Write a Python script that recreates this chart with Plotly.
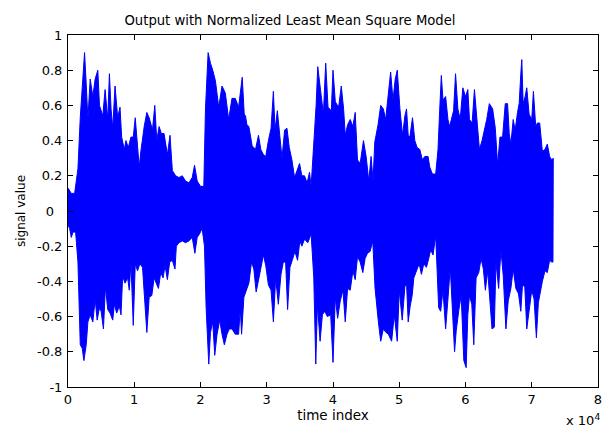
import plotly.graph_objects as go

# Envelope of the signal (x in thousands of samples)
upper_x = [0, 0.5, 1.0, 1.25, 1.5, 1.85, 2.15, 2.35, 2.5, 2.75, 3.0, 3.35, 3.75, 4.1, 4.5, 4.75,
           5.25, 5.6, 6.0, 6.25, 6.5, 6.75, 7.1, 7.5, 7.85, 8.1, 8.5, 8.75, 9.1, 9.5, 9.85,
           10.15, 10.5, 10.75, 11.0, 11.5, 11.9, 12.25, 12.75, 13.1, 13.4, 13.75, 14.1, 14.5,
           15.0, 15.4, 15.75, 16.25, 16.75, 17.25, 17.75, 18.25, 18.75, 19.1, 19.5, 20.0, 20.5,
           20.75, 21.15, 21.5, 21.85, 22.25, 22.75, 23.25, 23.75, 24.25, 24.75, 25.25, 25.75,
           26.3, 26.6, 26.8, 27.0, 27.3, 27.8, 28.3, 28.75, 29.1, 29.5, 29.85, 30.25, 30.65,
           31.0, 31.25, 31.6, 31.95, 32.3, 32.7, 33.05, 33.4, 33.8, 34.2, 34.6, 34.95, 35.3,
           35.7, 36.1, 36.45, 36.7, 37.1, 37.45, 37.7, 37.95, 38.3, 38.55, 38.9, 39.25, 39.75,
           40.0, 40.35, 40.85, 41.25, 41.6, 41.85, 42.2, 42.6, 43.0, 43.35, 43.7, 44.1, 44.6,
           45.0, 45.4, 45.75, 46.05, 46.3, 46.8, 47.2, 47.6, 47.95, 48.4, 48.7, 49.05, 49.4,
           49.7, 50.1, 50.5, 50.85, 51.1, 51.35, 51.6, 52.0, 52.35, 52.7, 53.1, 53.5, 53.85,
           54.35, 54.6, 55.0, 55.5, 55.85, 56.1, 56.35, 56.6, 57.0, 57.35, 57.6, 58.0, 58.2,
           58.5, 58.85, 59.2, 59.6, 60.0, 60.35, 60.6, 61.0, 61.35, 61.7, 62.1, 62.5, 62.85,
           63.2, 63.6, 64.1, 64.5, 64.85, 65.2, 65.6, 66.0, 66.35, 66.6, 66.85, 67.2, 67.5,
           67.85, 68.1, 68.35, 68.5, 68.7, 69.0, 69.25, 69.6, 70.0, 70.25, 70.6, 70.85, 71.2,
           71.6, 72.0, 72.35, 72.7, 73.0, 73.25]
upper_y = [0.13, 0.1, 0.1, 0.17, 0.24, 0.53, 0.71, 0.8, 0.9, 0.72, 0.52, 0.75, 0.65, 0.75, 0.8, 0.6,
           0.54, 0.69, 0.52, 0.78, 0.58, 0.47, 0.71, 0.53, 0.59, 0.42, 0.35, 0.4, 0.36, 0.42, 0.42,
           0.53, 0.39, 0.25, 0.34, 0.48, 0.56, 0.53, 0.46, 0.6, 0.4, 0.48, 0.44, 0.44,
           0.32, 0.43, 0.23, 0.2, 0.19, 0.2, 0.17, 0.16, 0.19, 0.26, 0.17, 0.14, 0.14,
           0.58, 0.9, 0.84, 0.8, 0.74, 0.59, 0.71, 0.67, 0.52, 0.64, 0.64, 0.59,
           0.76, 0.55, 0.54, 0.49, 0.48, 0.37, 0.35, 0.43, 0.35, 0.32, 0.31, 0.4, 0.47,
           0.68, 0.46, 0.57, 0.44, 0.3, 0.46, 0.47, 0.36, 0.29, 0.19, 0.23, 0.27, 0.2,
           0.2, 0.16, 0.22, 0.14, 0.36, 0.6, 0.82, 0.73, 0.62, 0.55, 0.84, 0.59, 0.57,
           0.8, 0.62, 0.59, 0.71, 0.58, 0.43, 0.49, 0.52, 0.48, 0.56, 0.29, 0.27, 0.4,
           0.31, 0.17, 0.31, 0.17, 0.39, 0.49, 0.6, 0.58, 0.52, 0.71, 0.79, 0.63, 0.75,
           0.8, 0.58, 0.43, 0.54, 0.58, 0.43, 0.42, 0.53, 0.4, 0.36, 0.35, 0.29, 0.31,
           0.31, 0.25, 0.21, 0.21, 0.35, 0.57, 0.77, 0.63, 0.65, 0.52, 0.48, 0.54, 0.57,
           0.78, 0.58, 0.52, 0.7, 0.65, 0.69, 0.52, 0.5, 0.69, 0.52, 0.35, 0.4, 0.46,
           0.52, 0.61, 0.58, 0.47, 0.26, 0.42, 0.42, 0.61, 0.61, 0.44, 0.38, 0.52, 0.46,
           0.56, 0.61, 0.78, 0.86, 0.61, 0.65, 0.7, 0.55, 0.52, 0.68, 0.48, 0.5, 0.5,
           0.34, 0.35, 0.38, 0.31, 0.29, 0.3]

lower_x = [0, 0.25, 0.5, 0.75, 1.15, 1.5, 1.85, 2.15, 2.4, 2.75, 3.0, 3.35, 3.75, 4.1, 4.4, 4.75,
           5.0, 5.35, 5.65, 6.0, 6.35, 6.75, 7.0, 7.35, 7.75, 8.0, 8.25, 8.6, 9.0, 9.25, 9.5,
           9.85, 10.15, 10.5, 10.85, 11.25, 11.6, 11.9, 12.25, 12.65, 13.0, 13.35, 13.65, 14.0,
           14.35, 14.65, 15.0, 15.35, 15.75, 16.15, 16.35, 16.75, 17.25, 17.75, 18.25, 18.75,
           19.15, 19.5, 19.85, 20.25, 20.6, 20.85, 21.25, 21.5, 21.85, 22.15, 22.5, 22.9, 23.25,
           23.6, 24.0, 24.35, 24.75, 25.25, 25.75, 26.0, 26.2, 26.55, 26.9, 27.3, 27.7, 28.05,
           28.4, 28.8, 29.15, 29.5, 29.85, 30.25, 30.65, 31.0, 31.35, 31.75, 32.15, 32.5, 32.85,
           33.15, 33.5, 33.85, 34.25, 34.65, 35.0, 35.3, 35.7, 36.2, 36.7, 37.1, 37.4, 37.65,
           38.05, 38.4, 38.75, 39.15, 39.65, 40.0, 40.35, 40.7, 41.1, 41.5, 41.85, 42.2, 42.6,
           43.0, 43.35, 43.7, 44.1, 44.5, 44.85, 45.2, 45.6, 46.0, 46.35, 46.85, 47.2, 47.6,
           48.0, 48.35, 48.85, 49.25, 49.7, 50.0, 50.45, 50.6, 50.85, 51.1, 51.35, 51.65, 51.95,
           52.2, 52.6, 53.0, 53.35, 53.7, 54.1, 54.45, 54.75, 55.1, 55.5, 55.7, 55.95, 56.25,
           56.6, 57.0, 57.35, 57.7, 58.0, 58.35, 58.6, 59.0, 59.35, 59.75, 60.1, 60.35, 60.6,
           60.95, 61.25, 61.6, 62.0, 62.35, 62.7, 63.0, 63.35, 63.7, 64.0, 64.35, 64.6, 65.0,
           65.35, 65.7, 66.1, 66.45, 66.85, 67.2, 67.6, 68.0, 68.35, 68.6, 68.95, 69.25, 69.6,
           70.0, 70.35, 70.7, 71.0, 71.35, 71.6, 72.0, 72.35, 72.7, 73.0, 73.2]
lower_y = [-0.08, -0.1, -0.15, -0.12, -0.12, -0.29, -0.76, -0.78, -0.85, -0.76, -0.63, -0.59, -0.63,
           -0.5, -0.62, -0.55, -0.57, -0.67, -0.43, -0.56, -0.58, -0.62, -0.53, -0.58, -0.54,
           -0.59, -0.37, -0.41, -0.38, -0.45, -0.29, -0.65, -0.3, -0.34, -0.3, -0.32, -0.51,
           -0.69, -0.49, -0.48, -0.38, -0.41, -0.44, -0.35, -0.38, -0.31, -0.39, -0.29, -0.28,
           -0.33, -0.2, -0.18, -0.17, -0.18, -0.17, -0.15, -0.24, -0.15, -0.13, -0.1, -0.2,
           -0.55, -0.87, -0.69, -0.63, -0.82, -0.7, -0.62, -0.7, -0.76, -0.7, -0.67, -0.67,
           -0.7, -0.7, -0.55, -0.7, -0.49, -0.45, -0.41, -0.29, -0.33, -0.46, -0.38, -0.32,
           -0.25, -0.31, -0.42, -0.45, -0.63, -0.38, -0.53, -0.36, -0.29, -0.29, -0.56, -0.32,
           -0.28, -0.23, -0.28, -0.17, -0.2, -0.16, -0.18, -0.13, -0.38, -0.87, -0.53, -0.74,
           -0.59, -0.57, -0.6, -0.59, -0.86, -0.49, -0.61, -0.51, -0.45, -0.63, -0.44, -0.45,
           -0.34, -0.39, -0.26, -0.29, -0.35, -0.27, -0.24, -0.23, -0.17, -0.44, -0.63, -0.74,
           -0.67, -0.69, -0.7, -0.74, -0.59, -0.74, -0.45, -0.62, -0.55, -0.43, -0.41, -0.63,
           -0.54, -0.48, -0.38, -0.34, -0.3, -0.36, -0.3, -0.32, -0.27, -0.22, -0.25, -0.14,
           -0.26, -0.55, -0.57, -0.45, -0.67, -0.5, -0.32, -0.49, -0.8, -0.68, -0.56, -0.48,
           -0.85, -0.89, -0.59, -0.48, -0.53, -0.76, -0.38, -0.35, -0.27, -0.33, -0.45, -0.34,
           -0.5, -0.67, -0.66, -0.29, -0.44, -0.22, -0.37, -0.67, -0.51, -0.44, -0.33, -0.44,
           -0.47, -0.57, -0.42, -0.43, -0.67, -0.56, -0.45, -0.5, -0.72, -0.52, -0.45, -0.4,
           -0.34, -0.35, -0.28, -0.29, -0.29]

x_ticks = [0, 1, 2, 3, 4, 5, 6, 7, 8]
y_ticks = [-1, -0.8, -0.6, -0.4, -0.2, 0, 0.2, 0.4, 0.6, 0.8, 1]
y_tick_text = ["-1", "-0.8", "-0.6", "-0.4", "-0.2", "0\u00a0\u00a0", "0.2", "0.4", "0.6", "0.8", "1"]

poly_x = [v * 1000 for v in upper_x] + [v * 1000 for v in reversed(lower_x)]
poly_y = upper_y + list(reversed(lower_y))

fig = go.Figure()
fig.add_trace(go.Scatter(x=poly_x, y=poly_y, mode="lines", fill="toself",
                         fillcolor="#0000ff", line=dict(color="#0000ff", width=1),
                         hoverinfo="skip", showlegend=False))

font = "DejaVu Sans, Liberation Sans, Arial, sans-serif"
axis_common = dict(showline=True, linecolor="black", linewidth=1, mirror="ticks",
                   ticks="inside", ticklen=5, tickcolor="black", showgrid=False,
                   zeroline=False, tickfont=dict(family=font, size=13, color="black"))

fig.update_layout(
    width=609, height=427,
    margin=dict(l=68, r=7, t=35, b=40),
    paper_bgcolor="white", plot_bgcolor="white",
    title=dict(text="Output with Normalized Least Mean Square Model",
               x=290 / 609, xref="container", xanchor="center",
               y=1 - 20 / 427, yanchor="middle",
               font=dict(family=font, size=13.2, color="black")),
    xaxis=dict(range=[0, 80000], tickvals=[t * 10000 for t in x_ticks],
               ticktext=[str(t) for t in x_ticks],
               title=dict(text="time index", font=dict(family=font, size=13.5, color="black"),
                          standoff=2),
               **axis_common),
    yaxis=dict(range=[-1, 1], tickvals=y_ticks, ticktext=y_tick_text,
               ticklabelstandoff=2,
               title=dict(text="signal value", font=dict(family=font, size=12, color="black"),
                          standoff=8),
               **axis_common),
    annotations=[dict(text="x 10<sup>4</sup>", xref="paper", yref="paper", x=1.0, y=0,
                      xanchor="right", yanchor="top", yshift=-23, xshift=4, showarrow=False,
                      font=dict(family=font, size=13, color="black"))],
)

fig.write_html("out.html")
